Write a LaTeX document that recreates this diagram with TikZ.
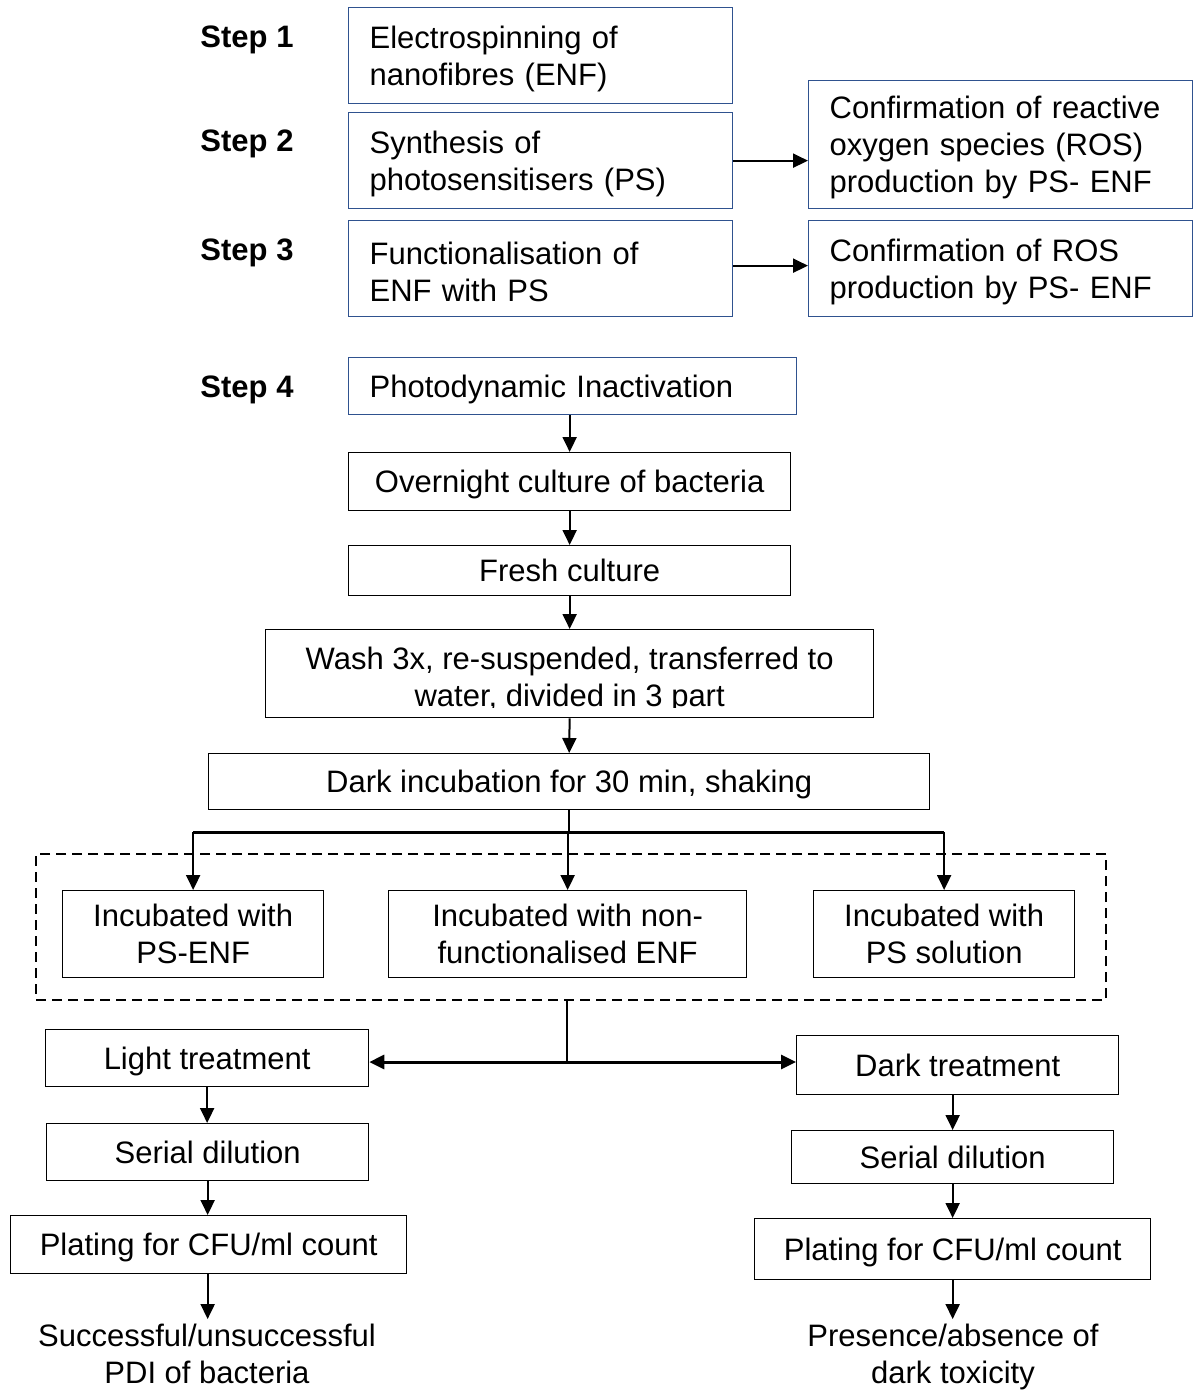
\documentclass[tikz,border=0pt]{standalone}
\usepackage{fontspec}
\setmainfont{Liberation Sans}
\usetikzlibrary{arrows.meta,calc}
\definecolor{navy}{HTML}{2F528F}
\begin{document}
\begin{tikzpicture}[x=1pt,y=-1pt,
  every node/.style={font=\fontsize{31}{37}\selectfont, inner sep=0pt},
  steplbl/.style={font=\fontsize{31}{37}\selectfont\bfseries, text depth=0pt},
  bbox/.style={draw=navy, line width=1.3pt, anchor=north west, align=left, inner xsep=21pt, text height=29pt},
  cbox/.style={draw=black, line width=1.3pt, anchor=north west, align=center, text depth=0pt},
  restext/.style={align=center, text depth=0pt, inner ysep=5pt},
  arr/.style={line width=2pt, -{Triangle[length=15pt,width=14pt]}},
  plain/.style={line width=2pt},
  heavy/.style={line width=3pt},
  darr/.style={line width=3pt, -{Triangle[length=15pt,width=14pt]}}]
\useasboundingbox (0,0) rectangle (1194,1391);

% Step labels
\node[steplbl] (s1) at (247,37) {Step 1};
\node[steplbl] (s2) at (247,141) {Step 2};
\node[steplbl] (s3) at (247,250) {Step 3};
\node[steplbl] (s4) at (247,387) {Step 4};

% Blue boxes
\node[bbox, text width=342pt, minimum height=96pt] (b1) at (348,7) {Electrospinning of\\nanofibres (ENF)};
\node[bbox, text width=342pt, minimum height=96pt] (b2) at (348,112) {Synthesis of\\photosensitisers (PS)};
\node[bbox, text width=342pt, minimum height=96pt] (b3) at (348,220) {Functionalisation of\\ENF with PS};
\node[bbox, text width=342pt, minimum height=128pt] (ra) at (808,80) {Confirmation of reactive\\oxygen species (ROS)\\production by PS- ENF};
\node[bbox, text width=342pt, minimum height=96pt] (rb) at (808,220) {Confirmation of ROS\\production by PS- ENF};
\node[bbox, text width=406pt, minimum height=57pt] (b4) at (348,357) {Photodynamic Inactivation};

% Black boxes
\node[cbox, minimum width=442pt, minimum height=58pt] (ov) at (348,452) {Overnight culture of bacteria};
\node[cbox, minimum width=442pt, minimum height=50pt] (fr) at (348,545) {Fresh culture};
\node[cbox, minimum width=608pt, minimum height=88pt] (wa) at (265,629) {};
\begin{scope}
  \clip ($(wa.north west)+(1,1)$) rectangle ($(wa.south east)+(-1,-11)$);
  \node[align=center, text depth=0pt] (wt) at ($(wa.center)+(0,3.5)$) {Wash 3x, re-suspended, transferred to\\water, divided in 3 part};
\end{scope}
\node[cbox, minimum width=721pt, minimum height=56pt] (di) at (208,753) {Dark incubation for 30 min, shaking};

\node[draw, dash pattern=on 10pt off 6pt, line width=2pt, anchor=north west, minimum width=1070pt, minimum height=146pt] (grp) at (35,853) {};
\node[cbox, minimum width=261pt, minimum height=87pt] (i1) at (62,890) {Incubated with\\PS-ENF};
\node[cbox, minimum width=358pt, minimum height=87pt] (i2) at (388,890) {Incubated with non-\\functionalised ENF};
\node[cbox, minimum width=261pt, minimum height=87pt] (i3) at (813,890) {Incubated with\\PS solution};

\node[cbox, minimum width=323pt, minimum height=57pt] (lt) at (45,1029) {Light treatment};
\node[cbox, minimum width=322pt, minimum height=59pt] (dt) at (796,1035) {Dark treatment};
\node[cbox, minimum width=322pt, minimum height=57pt] (sl) at (46,1123) {Serial dilution};
\node[cbox, minimum width=396pt, minimum height=58pt] (pl) at (10,1215) {Plating for CFU/ml count};
\node[cbox, minimum width=322pt, minimum height=53pt] (sr) at (791,1130) {Serial dilution};
\node[cbox, minimum width=396pt, minimum height=61pt] (pr) at (754,1218) {Plating for CFU/ml count};
\node[restext] (rl) at (207,1354) {Successful/unsuccessful\\PDI of bacteria};
\node[restext] (rr) at (953,1354) {Presence/absence of\\dark toxicity};

% Connectors
\draw[arr] (b2.east) -- (b2.east -| ra.west);
\draw[arr] ($(b3.east)+(0,-3)$) -- ($(b3.east -| rb.west)+(0,-3)$);
\draw[arr] (ov.north |- b4.south) -- (ov.north);
\draw[arr] (ov.south) -- (fr.north);
\draw[arr] (fr.south) -- (wa.north);
\draw[arr] (wa.south) -- (di.north);

\coordinate (bar) at (567,832);
\draw[plain] (di.south) -- (di.south |- bar);
\draw[heavy] (i1.north |- bar) -- (i3.north |- bar);
\draw[arr] (i1.north |- bar) -- (i1.north);
\draw[arr] (i2.north |- bar) -- (i2.north);
\draw[arr] (i3.north |- bar) -- (i3.north);

\coordinate (j) at (567,1062);
\draw[plain] (j |- grp.south) -- (j);
\draw[darr] (j) -- (j -| lt.east);
\draw[darr] (j) -- (j -| dt.west);

\draw[arr] (lt.south) -- (lt.south |- sl.north);
\draw[arr] (sl.south) -- (sl.south |- pl.north);
\draw[arr] (pl.south -| sl.south) -- (rl.north -| sl.south);
\draw[arr] (sr.north |- dt.south) -- (sr.north);
\draw[arr] (sr.south) -- (sr.south |- pr.north);
\draw[arr] (pr.south -| sr.south) -- (rr.north -| sr.south);
\end{tikzpicture}
\end{document}
